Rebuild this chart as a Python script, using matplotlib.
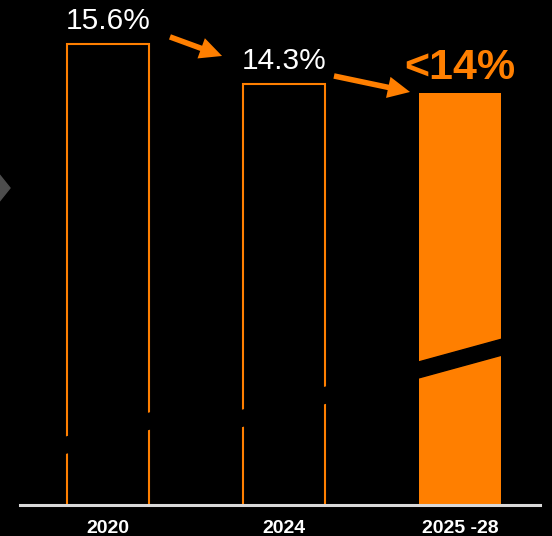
import matplotlib.pyplot as plt
from matplotlib.patches import Polygon

plt.rcParams['font.family'] = ['Liberation Sans', 'DejaVu Sans']

# share values, % (last one is the target "<14%")
periods = ['2020', '2024', '2025 -28']
shares = [15.6, 14.3, 14.0]
share_labels = ['15.6%', '14.3%', '<14%']
is_target = [False, False, True]
# where the axis-break slash crosses each bar (left edge, right edge)
break_levels = [(2.53, 3.38), (3.40, 4.22), (4.97, 5.78)]

orange = '#ff7f00'
bg = 'black'

fig = plt.figure(figsize=(5.52, 5.36), dpi=100, facecolor=bg)
ax = fig.add_axes([0, 31 / 536, 1, 505 / 536])
ax.set_facecolor(bg)

x = list(range(len(periods)))
width = 0.466
for xi, v, target in zip(x, shares, is_target):
    if target:
        ax.bar(xi, v, width=width, color=orange, edgecolor=orange, linewidth=0)
    else:
        ax.bar(xi, v, width=width, facecolor='none', edgecolor=orange, linewidth=1.5)

# black slanted band = broken axis mark
gap = 0.52
ext = 0.025
for xi, (yl, yr) in zip(x, break_levels):
    x0, x1 = xi - width / 2 - ext, xi + width / 2 + ext
    ax.add_patch(Polygon([(x0, yl - gap / 2), (x1, yr - gap / 2),
                          (x1, yr + gap / 2), (x0, yl + gap / 2)],
                         closed=True, color=bg, zorder=3))

# value labels above bars
for xi, v, lab, target in zip(x, shares, share_labels, is_target):
    ax.annotate(lab, (xi, v), xytext=(0, 10.5), textcoords='offset points',
                ha='center', va='baseline',
                fontsize=31 if target else 21.5,
                fontweight='bold' if target else 'normal',
                color=orange if target else 'white')

# trend arrows between the labels
arrow_ends = [((0.352, 0.23), (0.648, 0.91)), ((1.284, 0.26), (1.716, 0.04))]
for i, ((tx, ty), (hx, hy)) in enumerate(arrow_ends):
    ax.annotate('', xy=(hx, shares[i + 1] + hy), xytext=(tx, shares[i] + ty),
                arrowprops=dict(arrowstyle='simple,head_length=1.6,head_width=1.55,tail_width=0.4',
                                mutation_scale=10, color=orange,
                                shrinkA=0, shrinkB=0, lw=0))

ax.set_xlim(-108 / 176, (552 - 108) / 176)
ax.set_ylim(0.617, 0.617 + 505 / 30.77)

for s in ax.spines.values():
    s.set_visible(False)
ax.axhline(0.617, xmin=20 / 552, xmax=540 / 552, color='#d9d9d9', lw=2.2, zorder=4, clip_on=False)

ax.set_xticks(x)
ax.set_xticklabels(periods, fontsize=14, fontweight='bold', color='white')
ax.tick_params(axis='x', length=0, pad=11)
ax.set_yticks([])

# grey chevron at the left edge
fig.patches.append(Polygon([(-10 / 552, (536 - 163) / 536), (10 / 552, (536 - 188) / 536),
                            (-10 / 552, (536 - 213) / 536)],
                           closed=True, transform=fig.transFigure, color='#4d4d4d'))

fig.savefig('out.png', dpi=100, facecolor=bg)
